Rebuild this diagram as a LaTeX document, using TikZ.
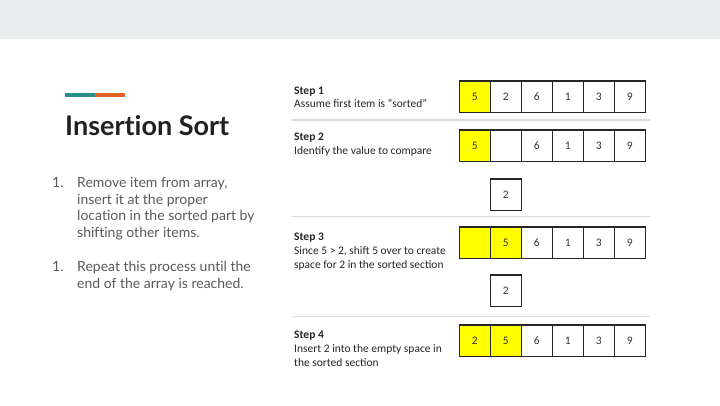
\documentclass[tikz,border=0pt]{standalone}
\usepackage{fontspec}
\setmainfont{Lato}[Ligatures=NoCommon]
\newfontfamily\stepfont{Carlito}

\definecolor{bandgray}{HTML}{E8ECEC}
\definecolor{accteal}{HTML}{2A8F88}
\definecolor{accorange}{HTML}{DC6424}
\definecolor{titlegray}{HTML}{212121}
\definecolor{bodygray}{HTML}{595959}
\definecolor{cellyellow}{HTML}{FFFF00}
\definecolor{rulegray}{HTML}{DCDCDC}

\begin{document}
\begin{tikzpicture}[x=1pt,y=-1pt]
\tikzset{
	cell/.style={draw=black!85,
		line width=1.5pt,
		minimum width=31pt,
		minimum height=31.5pt,
		inner sep=0pt,
		font=\stepfont\fontsize{11.5}{13}\selectfont,
		text=black!80
	},
	sorted/.style={cell, fill=cellyellow},
	steptext/.style={anchor=base west, inner sep=0pt, text=black!85,
		font=\stepfont\fontsize{11.5}{13}\selectfont},
	stephead/.style={steptext, font=\stepfont\bfseries\fontsize{11.5}{13}\selectfont},
	itemtext/.style={anchor=base west, align=left, inner sep=0pt, text=bodygray,
		font=\fontsize{14}{16.7}\selectfont}
}
\useasboundingbox (0,0) rectangle (720,405);
\fill[bandgray] (0,0) rectangle (720,39);

% left column
\draw[accteal, line width=4pt] (65,95) -- (95,95);
\draw[accorange, line width=4pt] (95,95) -- (125,95);
\node[anchor=base west, inner sep=0pt, text=titlegray, font=\bfseries\fontsize{27}{31}\selectfont] (TITLE) at (65,135) {Insertion Sort};
\node[itemtext] (NUM1) at (52,187.5) {1.};
\node[itemtext] (ITEM1) at (77,237.5) {Remove item from array,\\insert it at the proper\\location in the sorted part by\\shifting other items.};
\node[itemtext] (NUM2) at (52,271.5) {1.};
\node[itemtext] (ITEM2) at (77,288.5) {Repeat this process until the\\end of the array is reached.};

% step labels
\node[stephead] (STEP1) at (294,94.5) {Step 1};
\node[steptext] (STEP1TXT) at (294,107.5) {Assume first item is “sorted”};
\node[stephead] (STEP2) at (294,140.5) {Step 2};
\node[steptext] (STEP2TXT) at (294,154) {Identify the value to compare};
\node[stephead] (STEP3) at (294,240.5) {Step 3};
\node[steptext] (STEP3TXT) at (294,254.5) {Since 5 > 2, shift 5 over to create};
\node[steptext] (STEP3TXTB) at (294,268.5) {space for 2 in the sorted section};
\node[stephead] (STEP4) at (294,338) {Step 4};
\node[steptext] (STEP4TXT) at (294,352) {Insert 2 into the empty space in};
\node[steptext] (STEP4TXTB) at (294,366) {the sorted section};

% dividers
\draw[rulegray, line width=1.5pt] (292,120) -- (650,120);
\draw[rulegray, line width=1.5pt] (292,216.7) -- (650,216.7);
\draw[rulegray, line width=1.5pt] (292,316.7) -- (650,316.7);

% row 1
\node[sorted] (R1A) at (474.8,96.5) {5};
\node[cell] (R1B) at (505.8,96.5) {2};
\node[cell] (R1C) at (536.8,96.5) {6};
\node[cell] (R1D) at (567.8,96.5) {1};
\node[cell] (R1E) at (598.8,96.5) {3};
\node[cell] (R1F) at (629.8,96.5) {9};
% row 2
\node[sorted] (R2A) at (474.8,145.5) {5};
\node[cell] (R2B) at (505.8,145.5) {};
\node[cell] (R2C) at (536.8,145.5) {6};
\node[cell] (R2D) at (567.8,145.5) {1};
\node[cell] (R2E) at (598.8,145.5) {3};
\node[cell] (R2F) at (629.8,145.5) {9};
\node[cell] (KEY2) at (505.8,194.7) {2};
% row 3
\node[sorted] (R3A) at (474.8,242.8) {};
\node[sorted] (R3B) at (505.8,242.8) {5};
\node[cell] (R3C) at (536.8,242.8) {6};
\node[cell] (R3D) at (567.8,242.8) {1};
\node[cell] (R3E) at (598.8,242.8) {3};
\node[cell] (R3F) at (629.8,242.8) {9};
\node[cell] (KEY3) at (505.8,290.8) {2};
% row 4
\node[sorted] (R4A) at (474.8,340.5) {2};
\node[sorted] (R4B) at (505.8,340.5) {5};
\node[cell] (R4C) at (536.8,340.5) {6};
\node[cell] (R4D) at (567.8,340.5) {1};
\node[cell] (R4E) at (598.8,340.5) {3};
\node[cell] (R4F) at (629.8,340.5) {9};

\end{tikzpicture}
\end{document}
